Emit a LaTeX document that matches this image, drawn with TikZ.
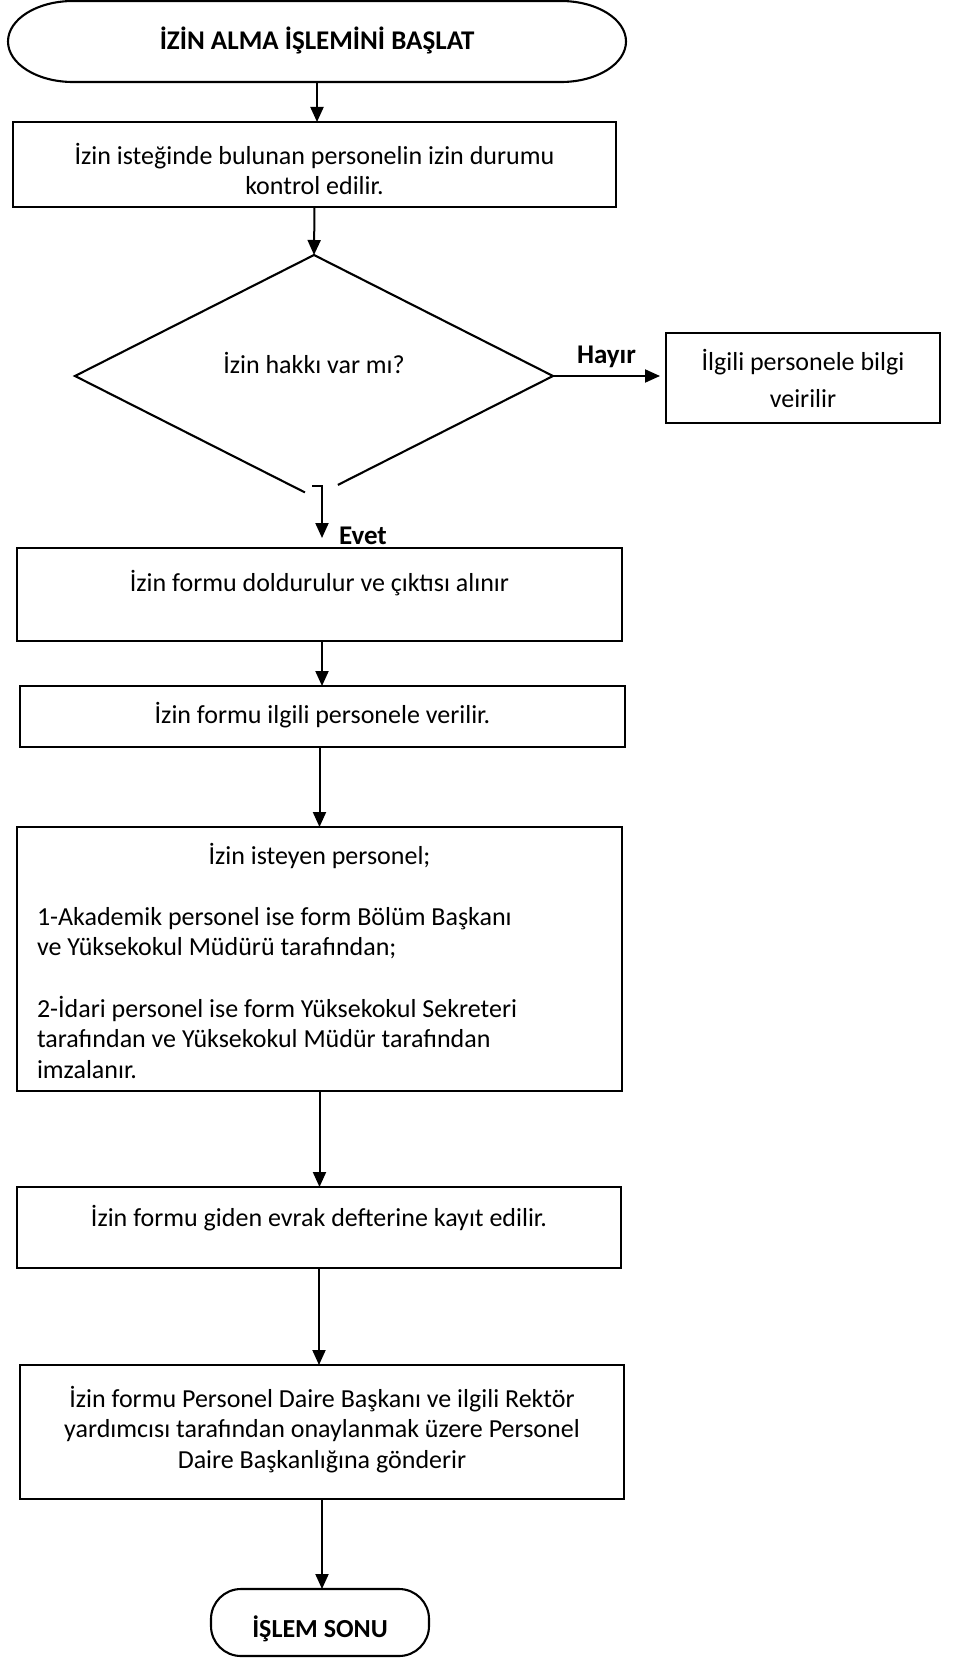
\documentclass[tikz,border=0pt]{standalone}
\usepackage{fontspec}
\setmainfont{Carlito}
\usetikzlibrary{arrows.meta,calc}
\newcommand\mainsize{\fontsize{26}{30.6}\selectfont}
\newcommand\boldsize{\fontsize{27}{30.6}\selectfont\bfseries}
% #1 width, #2 height, #3 top offset, #4 content
\newcommand\boxcontent[4]{\parbox[c][#2pt][t]{#1pt}{\mainsize\vspace*{#3pt}\centering #4\par}}
\begin{document}
\begin{tikzpicture}[x=1pt,y=-1pt,
  line width=2.1pt,
  arr/.style={-{Triangle[length=15pt,width=13pt]}, line width=2pt},
  box/.style={draw, inner sep=0pt, outer sep=0pt, anchor=north west, line width=2.1pt},
  lbl/.style={inner sep=0pt, font=\boldsize},
  term/.style={inner sep=0pt, outer sep=0pt, font=\boldsize}]
\useasboundingbox (0,0) rectangle (954,1659);

% start terminal
\node[term, minimum width=618pt, minimum height=81pt, text height=21pt, text depth=5pt] (s) at (317,41.5) {İZİN ALMA İŞLEMİNİ BAŞLAT};
\draw ([xshift=65pt]s.north west) -- ([xshift=-65pt]s.north east)
  arc[start angle=90, end angle=-90, x radius=65pt, y radius=40.5pt]
  -- ([xshift=65pt]s.south west)
  arc[start angle=270, end angle=90, x radius=65pt, y radius=40.5pt] -- cycle;

\node[box] (r1) at (13,122) {\boxcontent{603}{85}{20.6}{\strut İzin isteğinde bulunan personelin izin durumu\\\strut kontrol edilir.}};

% decision
\node[inner sep=0pt, outer sep=0pt, anchor=north west] (d) at (75,255) {\boxcontent{478}{242}{96.6}{\strut İzin hakkı var mı?}};
\draw ($(d.west)!0.962!(d.south)$) -- (d.west) -- (d.north) -- (d.east) -- ($(d.east)!0.90!(d.south)$);

\node[box, line width=2.6pt] (b) at (666,333) {\boxcontent{274}{90}{15.6}{\strut İlgili personele bilgi\\[6.4pt]\strut veirilir}};

\node[box] (r3) at (17,548) {\boxcontent{605}{93}{21.6}{\strut İzin formu doldurulur ve çıktısı alınır}};
\node[box] (r4) at (20,686) {\boxcontent{605}{61}{15.6}{\strut İzin formu ilgili personele verilir.}};
\node[box] (r5) at (17,827) {\parbox[c][264pt][t]{605pt}{\mainsize\vspace*{15.6pt}%
  {\centering\strut İzin isteyen personel;\par}\vspace{30.6pt}%
  \raggedright\leftskip=20pt
  \strut 1-Akademik personel ise form Bölüm Başkanı\\
  \strut ve Yüksekokul Müdürü tarafından;\\[30.6pt]
  \strut 2-İdari personel ise form Yüksekokul Sekreteri\\
  \strut tarafından ve Yüksekokul Müdür tarafından\\
  \strut imzalanır.\par}};
\node[box] (r6) at (17,1187) {\boxcontent{604}{81}{17.6}{\strut İzin formu giden evrak defterine kayıt edilir.}};
\node[box] (r7) at (20,1365) {\boxcontent{604}{134}{20.6}{\strut İzin formu Personel Daire Başkanı ve ilgili Rektör\\\strut yardımcısı tarafından onaylanmak üzere Personel\\\strut Daire Başkanlığına gönderir}};

% end terminal
\node[term, font=\fontsize{26}{30.6}\selectfont\bfseries, draw, rounded corners=30pt, minimum width=218pt, minimum height=67pt, text height=34pt, text depth=5pt] (e) at (320,1622.5) {İŞLEM SONU};

% connectors
\draw[arr] (s.south) -- (s.south |- r1.north);
\draw[arr] (r1.south) -- (d.north);
\draw[arr, shorten >=6pt] (d.east) -- (d.east -| b.west);
\node[lbl, anchor=base west] (hayir) at (576,363) {Hayır};
\coordinate (ev) at (322,486);
\draw[arr, shorten >=10pt] ($(ev)+(-10,0)$) -- (ev) -- (ev |- r3.north);
\node[lbl, anchor=base west] (evet) at (338,544) {Evet};
\draw[arr] (ev |- r3.south) -- (ev |- r4.north);
\draw[arr] (r5.north |- r4.south) -- (r5.north);
\draw[arr] (r5.south) -- (r5.south |- r6.north);
\draw[arr] (r6.south) -- (r6.south |- r7.north);
\draw[arr] (r7.south) -- (r7.south |- e.north);
\end{tikzpicture}
\end{document}
